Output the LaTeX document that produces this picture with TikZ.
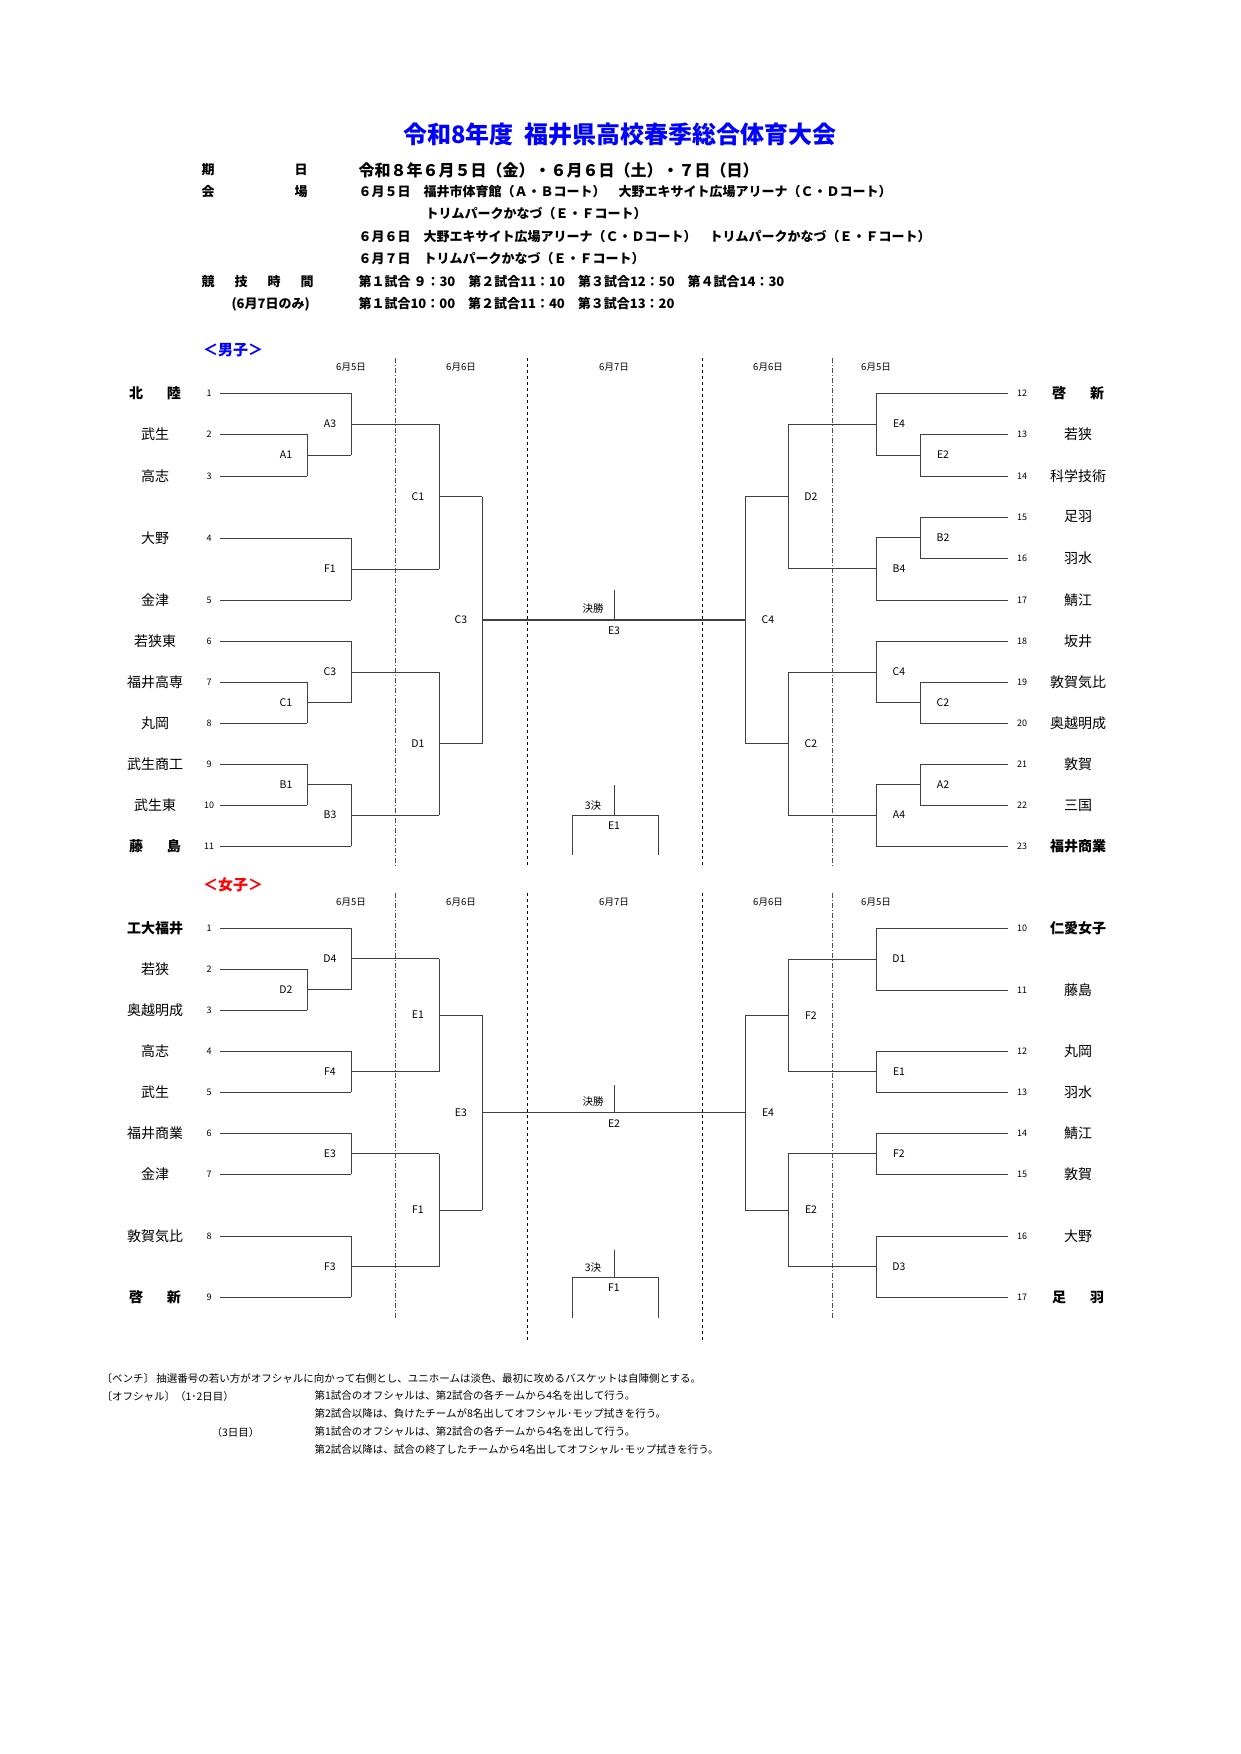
\documentclass[tikz,border=0pt]{standalone}
\usepackage{fontspec}
\setmainfont{Noto Sans CJK JP}
\usetikzlibrary{positioning}

% bracket pieces: vertical at x from y1 to y2, winner line to xn
\newcommand{\mL}[5]{%
  \draw[bline] (#1,#2) -- (#1,#3);
  \draw[bline] (#1,{(#2+#3)/2}) -- (#4,{(#2+#3)/2});
  \node[mlabel] at (#1-21,{(#2+#3)/2}) {#5};}
\newcommand{\mR}[5]{%
  \draw[bline] (#1,#2) -- (#1,#3);
  \draw[bline] (#1,{(#2+#3)/2}) -- (#4,{(#2+#3)/2});
  \node[mlabel] at (#1+23,{(#2+#3)/2}) {#5};}
\newcommand{\spname}[2]{\makebox[52pt][s]{#1\hfil #2}}

\tikzset{
  bline/.style={line width=0.9pt, black!75},
  mlabel/.style={font=\fontsize{10.5}{10.5}\selectfont},
  numlabel/.style={font=\fontsize{9}{9}\selectfont},
  team/.style={font=\fontsize{14}{14}\selectfont},
  bteam/.style={font=\fontsize{14}{14}\selectfont\bfseries},
  datelabel/.style={font=\fontsize{9.5}{9.5}\selectfont},
  info/.style={anchor=west, font=\fontsize{13}{13}\selectfont\bfseries},
  foot/.style={anchor=west, font=\fontsize{10.5}{10.5}\selectfont},
  daydash/.style={dash pattern=on 5pt off 2pt on 1pt off 2pt, line width=0.9pt, black!70},
  sixdash/.style={dashed, line width=0.6pt},
}

\begin{document}
\begin{tikzpicture}[x=1pt,y=-1pt]
\useasboundingbox (0,0) rectangle (1240,1754);

% header
\node[font=\fontsize{24}{24}\selectfont\bfseries, text=blue] (title) at (620,134) {令和8年度\ \ 福井県高校春季総合体育大会};
\node[info] (k1) at (198,170) {期\hspace{80pt}日};
\node[info, font=\fontsize{16}{16}\selectfont\bfseries] (v1) at (355,170) {令和８年６月５日（金）・６月６日（土）・７日（日）};
\node[info] (k2) at (198,192) {会\hspace{80pt}場};
\node[info] (v2) at (355,192) {６月５日\quad 福井市体育館（Ａ・Ｂコート）\quad 大野エキサイト広場アリーナ（Ｃ・Ｄコート）};
\node[info] (v3) at (422,214) {トリムパークかなづ（Ｅ・Ｆコート）};
\node[info] (v4) at (355,237) {６月６日\quad 大野エキサイト広場アリーナ（Ｃ・Ｄコート）\quad トリムパークかなづ（Ｅ・Ｆコート）};
\node[info] (v5) at (355,259) {６月７日\quad トリムパークかなづ（Ｅ・Ｆコート）};
\node[info] (k3) at (198,282) {競\hspace{20pt}技\hspace{20pt}時\hspace{20pt}間};
\node[info] (v6) at (355,282) {第１試合\ ９：30\quad 第２試合11：10\quad 第３試合12：50\quad 第４試合14：30};
\node[info] (k4) at (228,304) {(6月7日のみ)};
\node[info] (v7) at (355,304) {第１試合10：00\quad 第２試合11：40\quad 第３試合13：20};

% ===== boys =====
\node[font=\fontsize{15}{15}\selectfont\bfseries, text=blue] (boys) at (233,350) {＜男子＞};
\foreach \x/\d in {351/6月5日,461/6月6日,614/6月7日,768/6月6日,876/6月5日}
  \node[datelabel] at (\x,367) {\d};
\draw[daydash] (395,358) -- (395,866);
\draw[daydash] (832,358) -- (832,866);
\draw[sixdash] (527,358) -- (527,866);
\draw[sixdash] (702,358) -- (702,866);

% left teams
\foreach \n/\y/\xe/\nm in {2/434/307/武生,3/476/307/高志,4/538/351/大野,5/600/351/金津,
    6/641/351/若狭東,7/682/307/福井高専,8/723/307/丸岡,9/764/307/武生商工,10/805/307/武生東}{
  \node[numlabel] (bn\n) at (209,\y) {\n};
  \node[team] (bt\n) at (155,\y) {\nm};
  \draw[bline] (220,\y) -- (\xe,\y);
}
\node[numlabel] (bn1) at (209,393) {1};
\node[bteam] (bt1) at (155,393) {\spname{北}{陸}};
\draw[bline] (220,393) -- (351,393);
\node[numlabel] (bn11) at (209,846) {11};
\node[bteam] (bt11) at (155,846) {\spname{藤}{島}};
\draw[bline] (220,846) -- (351,846);

\mL{307}{434}{476}{351}{A1}
\mL{351}{393}{455}{439}{A3}
\mL{351}{538}{600}{439}{F1}
\mL{439}{424}{569}{482}{C1}
\mL{307}{682}{723}{351}{C1}
\mL{351}{641}{703}{439}{C3}
\mL{307}{764}{805}{351}{B1}
\mL{351}{784}{846}{439}{B3}
\mL{439}{672}{815}{482}{D1}
\mL{482}{496.5}{743.5}{745}{C3}

% right teams
\foreach \n/\y/\xe/\nm in {13/434/920/若狭,14/476/920/科学技術,15/517/920/足羽,16/558/920/羽水,
    17/600/876/鯖江,18/641/876/坂井,19/682/920/敦賀気比,20/723/920/奥越明成,21/764/920/敦賀,22/805/920/三国}{
  \node[numlabel] (bn\n) at (1022,\y) {\n};
  \node[team] (bt\n) at (1078,\y) {\nm};
  \draw[bline] (1008,\y) -- (\xe,\y);
}
\node[numlabel] (bn12) at (1022,393) {12};
\node[bteam] (bt12) at (1078,393) {\spname{啓}{新}};
\draw[bline] (1008,393) -- (876,393);
\node[numlabel] (bn23) at (1022,846) {23};
\node[bteam] (bt23) at (1078,846) {福井商業};
\draw[bline] (1008,846) -- (876,846);

\mR{920}{434}{476}{876}{E2}
\mR{876}{393}{455}{788}{E4}
\mR{920}{517}{558}{876}{B2}
\mR{876}{537}{600}{788}{B4}
\mR{788}{424}{568.5}{745}{D2}
\mR{920}{682}{723}{876}{C2}
\mR{876}{641}{703}{788}{C4}
\mR{920}{764}{805}{876}{A2}
\mR{876}{784}{846}{788}{A4}
\mR{788}{672}{815}{745}{C2}
\mR{745}{496.25}{743.5}{482}{C4}

% final / 3rd place
\draw[bline] (614,590) -- (614,620);
\node[mlabel] (bfin) at (593,609) {決勝};
\node[mlabel] (bfinm) at (614,631) {E3};
\draw[bline] (614,785) -- (614,815);
\draw[bline] (572,855) -- (572,815) -- (658,815) -- (658,855);
\node[mlabel] (bthird) at (593,806) {3決};
\node[mlabel] (bthirdm) at (614,826) {E1};

% ===== girls =====
\node[font=\fontsize{15}{15}\selectfont\bfseries, text=red] (girls) at (233,885) {＜女子＞};
\foreach \x/\d in {351/6月5日,461/6月6日,614/6月7日,768/6月6日,876/6月5日}
  \node[datelabel] at (\x,902) {\d};
\draw[daydash] (395,893) -- (395,1318);
\draw[daydash] (832,893) -- (832,1318);
\draw[sixdash] (527,893) -- (527,1340);
\draw[sixdash] (702,893) -- (702,1340);

\foreach \n/\y/\xe/\nm in {2/969/307/若狭,3/1010/307/奥越明成,4/1051/351/高志,5/1092/351/武生,
    6/1133/351/福井商業,7/1174/351/金津,8/1236/351/敦賀気比}{
  \node[numlabel] (gn\n) at (209,\y) {\n};
  \node[team] (gt\n) at (155,\y) {\nm};
  \draw[bline] (220,\y) -- (\xe,\y);
}
\node[numlabel] (gn1) at (209,928) {1};
\node[bteam] (gt1) at (155,928) {工大福井};
\draw[bline] (220,928) -- (351,928);
\node[numlabel] (gn9) at (209,1297) {9};
\node[bteam] (gt9) at (155,1297) {\spname{啓}{新}};
\draw[bline] (220,1297) -- (351,1297);

\mL{307}{969}{1010}{351}{D2}
\mL{351}{928}{989.5}{439}{D4}
\mL{351}{1051}{1092}{439}{F4}
\mL{439}{958.75}{1071.5}{482}{E1}
\mL{351}{1133}{1174}{439}{E3}
\mL{351}{1236}{1297}{439}{F3}
\mL{439}{1153.5}{1266.5}{482}{F1}
\mL{482}{1015.125}{1210}{745}{E3}

\foreach \n/\y/\nm in {11/990/藤島,12/1051/丸岡,13/1092/羽水,14/1133/鯖江,15/1174/敦賀,16/1236/大野}{
  \node[numlabel] (gn\n) at (1022,\y) {\n};
  \node[team] (gt\n) at (1078,\y) {\nm};
  \draw[bline] (1008,\y) -- (876,\y);
}
\node[numlabel] (gn10) at (1022,928) {10};
\node[bteam] (gt10) at (1078,928) {仁愛女子};
\draw[bline] (1008,928) -- (876,928);
\node[numlabel] (gn17) at (1022,1297) {17};
\node[bteam] (gt17) at (1078,1297) {\spname{足}{羽}};
\draw[bline] (1008,1297) -- (876,1297);

\mR{876}{928}{990}{788}{D1}
\mR{876}{1051}{1092}{788}{E1}
\mR{788}{959}{1071.5}{745}{F2}
\mR{876}{1133}{1174}{788}{F2}
\mR{876}{1236}{1297}{788}{D3}
\mR{788}{1153.5}{1266.5}{745}{E2}
\mR{745}{1015.25}{1210}{482}{E4}

\draw[bline] (614,1085) -- (614,1112.6);
\node[mlabel] (gfin) at (593,1101) {決勝};
\node[mlabel] (gfinm) at (614,1124) {E2};
\draw[bline] (614,1250) -- (614,1277);
\draw[bline] (572,1318) -- (572,1277) -- (658,1277) -- (658,1318);
\node[mlabel] (gthird) at (593,1268) {3決};
\node[mlabel] (gthirdm) at (614,1288) {F1};

% notes
\node[foot] (f1) at (98,1378) {〔ベンチ〕 抽選番号の若い方がオフシャルに向かって右側とし、ユニホームは淡色、最初に攻めるバスケットは自陣側とする。};
\node[foot] (f2) at (98,1396) {〔オフシャル〕（1･2日目）};
\node[foot] (f3) at (311,1396) {第1試合のオフシャルは、第2試合の各チームから4名を出して行う。};
\node[foot] (f4) at (311,1414) {第2試合以降は、負けたチームが8名出してオフシャル･モップ拭きを行う。};
\node[foot] (f5) at (208,1432) {（3日目）};
\node[foot] (f6) at (311,1432) {第1試合のオフシャルは、第2試合の各チームから4名を出して行う。};
\node[foot] (f7) at (311,1450) {第2試合以降は、試合の終了したチームから4名出してオフシャル･モップ拭きを行う。};
\end{tikzpicture}
\end{document}
